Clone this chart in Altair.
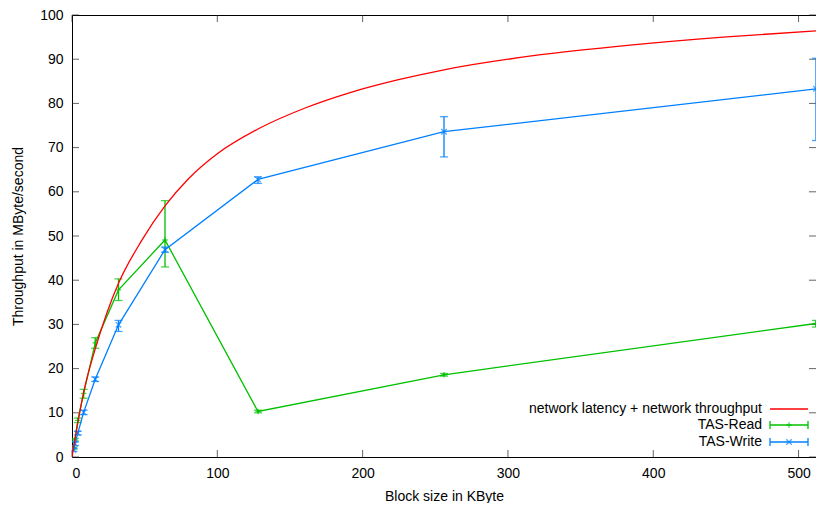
import altair as alt
import pandas as pd

# ---------------- data ----------------
series_names = ["network latency + network throughput", "TAS-Read", "TAS-Write"]
series_colors = ["#ff0000", "#00c000", "#0080ff"]

# model curve (network latency + network throughput)
curve_x = [0, 1, 2, 4, 8, 16, 24, 32, 48, 64, 80, 100, 128, 160, 192, 224, 256, 320, 384, 448, 512]
curve_y = [0, 2.0, 3.9, 7.7, 14.6, 24.5, 32.6, 39.3, 49.0, 56.8, 62.9, 68.6, 74.2, 78.9, 82.5, 85.3, 87.6, 90.9, 93.2, 95.0, 96.4]

block_sizes = [1, 2, 4, 8, 16, 32, 64, 128, 256, 512]

read_mean = [2.0, 3.9, 8.3, 14.4, 25.8, 37.8, 49.1, 10.3, 18.6, 30.2]
read_low = [1.8, 3.6, 7.8, 13.3, 24.6, 35.4, 43.0, 10.0, 18.3, 29.4]
read_high = [2.2, 4.2, 8.8, 15.3, 27.0, 40.3, 58.0, 10.6, 18.9, 30.9]

write_mean = [1.6, 3.0, 5.4, 10.1, 17.6, 29.9, 46.9, 62.8, 73.6, 83.3]
write_low = [1.3, 2.6, 5.0, 9.6, 17.1, 28.4, 46.3, 61.9, 67.9, 71.6]
write_high = [1.9, 3.4, 5.8, 10.6, 18.1, 30.9, 47.5, 63.4, 77.0, 90.2]

x_ticks = [0, 100, 200, 300, 400, 500]
y_ticks = [0, 10, 20, 30, 40, 50, 60, 70, 80, 90, 100]

x_title = "Block size in KByte"
y_title = "Throughput in MByte/second"

# ---------------- build tables ----------------
curve_df = pd.DataFrame({"x": curve_x, "y": curve_y})
read_df = pd.DataFrame({"x": block_sizes, "y": read_mean, "lo": read_low, "hi": read_high})
write_df = pd.DataFrame({"x": block_sizes, "y": write_mean, "lo": write_low, "hi": write_high})
xt_df = pd.DataFrame({"x": x_ticks})
yt_df = pd.DataFrame({"y": y_ticks})

FONT = "Liberation Sans"
W, H = 744, 442
xs = alt.Scale(domain=[0, 512], nice=False, zero=False)
ys = alt.Scale(domain=[0, 100], nice=False, zero=False)

PLUS = "M-1,0L1,0M0,-1L0,1"
CROSS = "M-1,-1L1,1M-1,1L1,-1"

common_axis = dict(ticks=False, domain=False, grid=False, labelFontSize=14,
                   titleFontSize=14, titleFontWeight="normal", labelFont=FONT,
                   titleFont=FONT, labelColor="#000", titleColor="#000")
x_axis = alt.Axis(values=x_ticks, labelPadding=9, titlePadding=9, **common_axis)
y_axis = alt.Axis(values=y_ticks, labelPadding=9, titlePadding=14, **common_axis)


def X(f="x"):
    return alt.X(f"{f}:Q", scale=xs, axis=x_axis, title=x_title)


def Y(f="y"):
    return alt.Y(f"{f}:Q", scale=ys, axis=y_axis, title=y_title)


TICK_LEN = 7
tick_col = "#222"
bottom_ticks = alt.Chart(xt_df).mark_tick(orient="vertical", size=TICK_LEN, thickness=1,
                                          yOffset=-TICK_LEN / 2, color=tick_col).encode(
    x=X(), y=alt.datum(0, scale=ys, axis=y_axis, title=y_title))
top_ticks = alt.Chart(xt_df).mark_tick(orient="vertical", size=TICK_LEN, thickness=1,
                                       yOffset=TICK_LEN / 2, color=tick_col).encode(
    x=X(), y=alt.datum(100, scale=ys, axis=y_axis, title=y_title))
left_ticks = alt.Chart(yt_df).mark_tick(orient="horizontal", size=TICK_LEN, thickness=1,
                                        xOffset=TICK_LEN / 2, color=tick_col).encode(
    y=Y(), x=alt.datum(0, scale=xs, axis=x_axis, title=x_title))
right_ticks = alt.Chart(yt_df).mark_tick(orient="horizontal", size=TICK_LEN, thickness=1,
                                         xOffset=-TICK_LEN / 2, color=tick_col).encode(
    y=Y(), x=alt.datum(512, scale=xs, axis=x_axis, title=x_title))

curve = alt.Chart(curve_df).mark_line(color=series_colors[0], strokeWidth=1.3,
                                      interpolate="monotone", clip=True).encode(x=X(), y=Y())


def series_layers(df, color, shape):
    line = alt.Chart(df).mark_line(color=color, strokeWidth=1.3, clip=True).encode(x=X(), y=Y())
    bars = alt.Chart(df).mark_rule(color=color, strokeWidth=1.3, clip=True).encode(
        x=X(), y=Y("lo"), y2="hi:Q")
    cap_lo = alt.Chart(df).mark_tick(orient="horizontal", size=8, thickness=1.3, color=color,
                                     clip=True).encode(x=X(), y=Y("lo"))
    cap_hi = alt.Chart(df).mark_tick(orient="horizontal", size=8, thickness=1.3, color=color,
                                     clip=True).encode(x=X(), y=Y("hi"))
    pts = alt.Chart(df).mark_point(shape=shape, size=30, strokeWidth=1.3, color=color,
                                   filled=False, clip=True).encode(x=X(), y=Y())
    return [line, bars, cap_lo, cap_hi, pts]


read_layers = series_layers(read_df, series_colors[1], PLUS)
write_layers = series_layers(write_df, series_colors[2], CROSS)

# ---------------- key (gnuplot style: text left of sample) ----------------
one = alt.Data(values=[{"k": 0}])
leg_layers = []
TEXT_X, L0, L1 = 690, 698, 736
ROW_Y = [394, 410, 427]
for i, (name, col) in enumerate(zip(series_names, series_colors)):
    yy = ROW_Y[i]
    leg_layers.append(alt.Chart(one).mark_text(align="right", baseline="middle", font=FONT,
                                               fontSize=14, color="#000").encode(
        x=alt.value(TEXT_X), y=alt.value(yy), text=alt.value(name)))
    leg_layers.append(alt.Chart(one).mark_rule(color=col, strokeWidth=1.3).encode(
        x=alt.value(L0), x2=alt.value(L1), y=alt.value(yy)))
    if i > 0:
        for xx in (L0, L1):
            leg_layers.append(alt.Chart(one).mark_rule(color=col, strokeWidth=1.3).encode(
                x=alt.value(xx), y=alt.value(yy - 4), y2=alt.value(yy + 4)))
        leg_layers.append(alt.Chart(one).mark_point(shape=PLUS if i == 1 else CROSS, size=30,
                                                    strokeWidth=1.3, color=col, filled=False).encode(
            x=alt.value((L0 + L1) / 2), y=alt.value(yy)))

chart = alt.layer(
    bottom_ticks, top_ticks, left_ticks, right_ticks,
    *read_layers, *write_layers, curve, *leg_layers
).properties(
    width=W, height=H,
    autosize=alt.AutoSizeParams(type="none"),
    padding={"left": 64, "top": 7, "right": 0, "bottom": 46},
    background="white",
).configure_view(stroke="#000", strokeWidth=1)

chart.save("out.html", embed_options={"renderer": "svg", "actions": False})
